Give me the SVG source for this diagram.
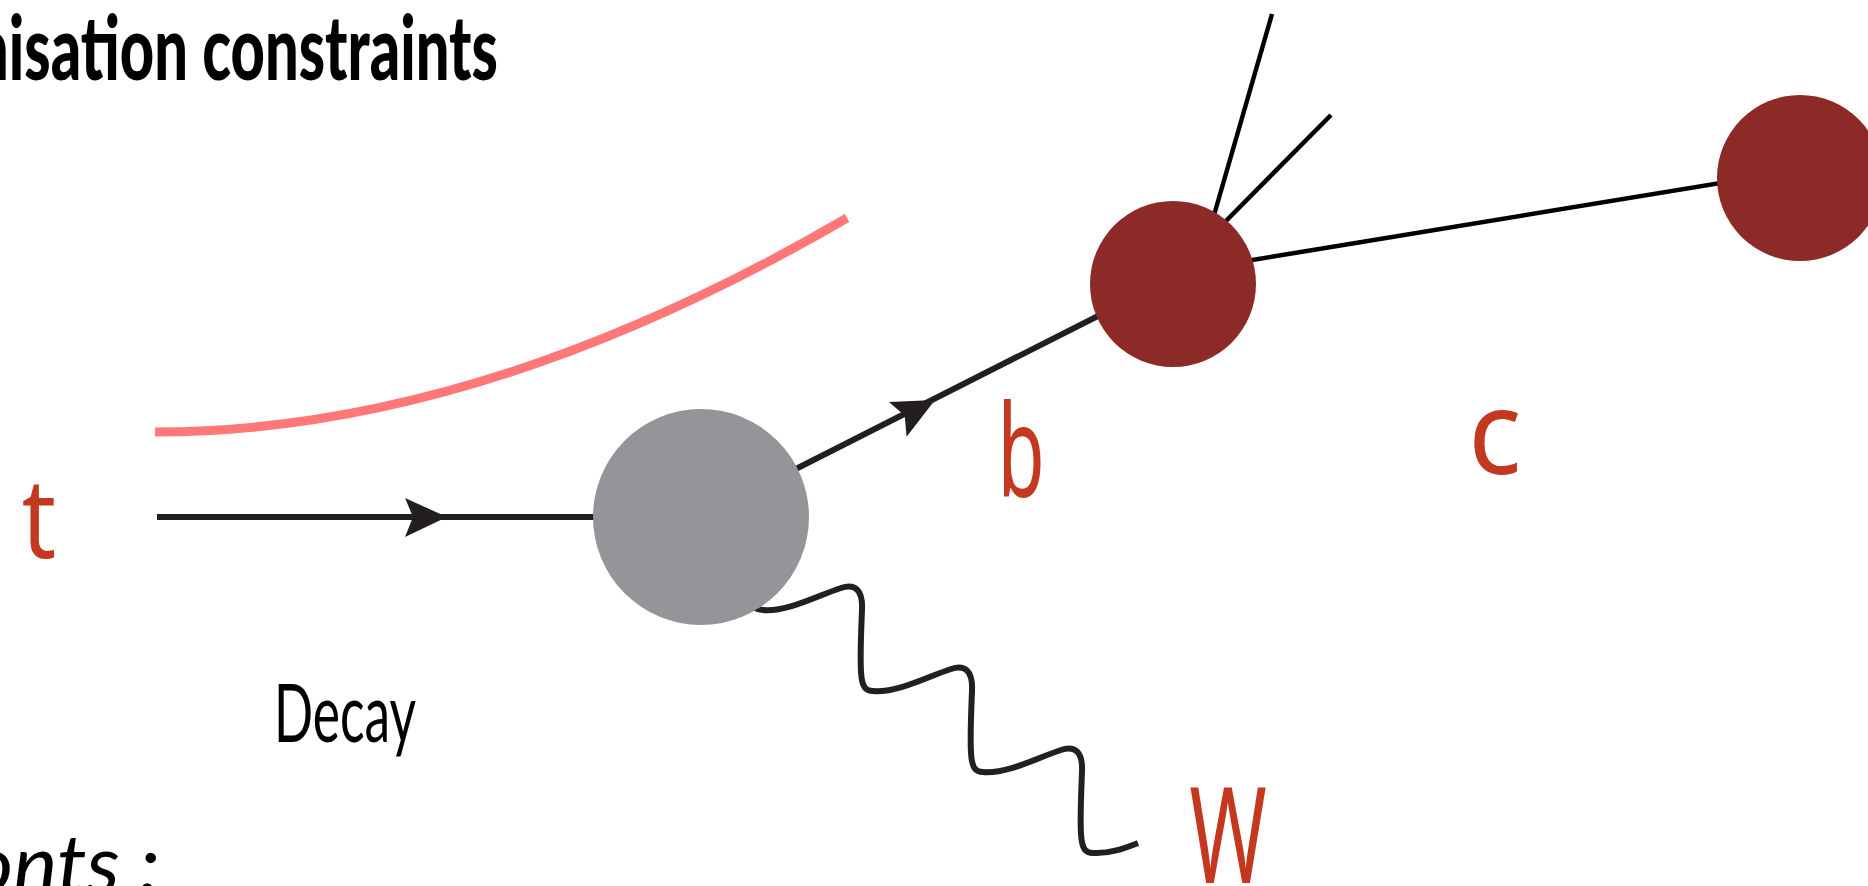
<svg xmlns="http://www.w3.org/2000/svg" xmlns:xlink="http://www.w3.org/1999/xlink" width="1868" height="886" viewBox="0 0 1868 886">
<style>
.ln{stroke:#231f20;stroke-width:6;fill:none}
.lk{stroke:#000;stroke-width:4.5;fill:none}
.hand{font-family:"Noto Sans",sans-serif;fill:#c3381f;text-anchor:middle}
.txt{font-family:Lato,"Liberation Sans",sans-serif;fill:#000}
.red{fill:#8b2a26}
</style>
<defs>
<path id="arrow" d="M0,0 L-42,-19 L-34,0 L-42,20 Z" fill="#231f20"/>
</defs>
<rect width="1868" height="886" fill="#fff"/>
<text class="txt" x="-25" y="80" font-size="90" font-weight="900" font-family="'Open Sans',Lato,sans-serif" textLength="523" lengthAdjust="spacingAndGlyphs">nisation constraints</text>
<text class="txt" x="274" y="742" font-size="82" textLength="142" lengthAdjust="spacingAndGlyphs">Decay</text>
<text class="txt" x="-30" y="893" font-size="82" font-style="italic" textLength="190" lengthAdjust="spacingAndGlyphs">onts :</text>
<g id="connectors">
<path d="M155,432 Q480,432 847,218" stroke="#ff7777" stroke-width="9" fill="none"/>
<line class="ln" x1="157" y1="517" x2="650" y2="517"/>
<line class="ln" x1="701" y1="517" x2="1173" y2="278"/>
<line class="lk" x1="1173" y1="273" x2="1800" y2="170"/>
<line class="lk" x1="1210" y1="229" x2="1272" y2="14"/>
<line class="lk" x1="1218" y1="229" x2="1331" y2="115"/>
<path class="ln" stroke-width="5" d="M745,600 C752,608 757,610 763,610 C788,612 819,595 841,588 C855,583 863,590 862,610 C861,635 860,655 861,672 C862,688 866,691 873,691 C898,693 929,676 951,669 C965,664 973,671 972,691 C971,716 970,736 971,753 C972,769 976,772 983,772 C1008,774 1039,757 1061,750 C1075,745 1083,752 1082,772 C1081,797 1080,817 1081,834 C1082,850 1086,853 1093,853 C1110,854 1125,848 1138,843"/>
<use xlink:href="#arrow" transform="translate(447,517)"/>
<use xlink:href="#arrow" transform="translate(935,400) rotate(-26.9)"/>
</g>
<g id="node-decay"><circle cx="701" cy="517" r="108" fill="#939598"/></g>
<g id="node-b"><circle class="red" cx="1173" cy="284" r="83"/></g>
<g id="node-c"><circle class="red" cx="1800" cy="178" r="83"/></g>
<g id="labels">
<text class="hand" font-size="112" transform="translate(39,558) scale(0.85,1)">t</text>
<text class="hand" font-size="128" transform="translate(1021,497) scale(0.6,1)">b</text>
<text class="hand" font-size="117" transform="translate(1495,474) scale(0.95,1)">c</text>
<text class="hand" font-size="134" transform="translate(1228,883) scale(0.62,1)">W</text>
</g>
</svg>
